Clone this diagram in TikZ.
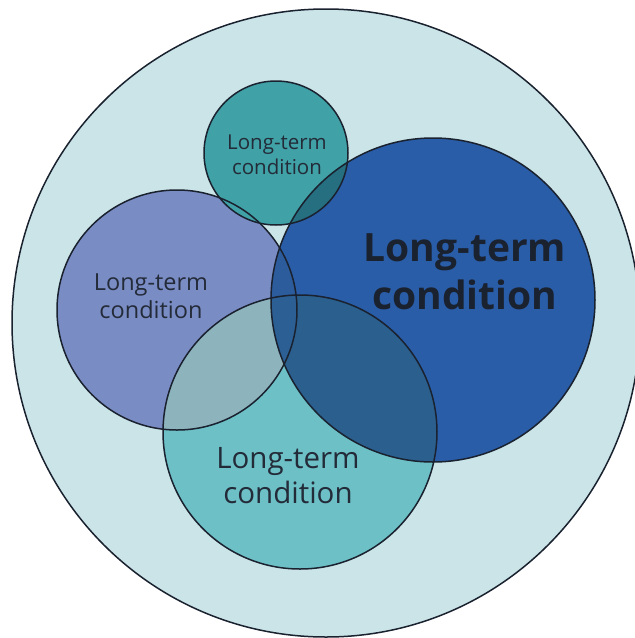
\documentclass[tikz,border=0pt]{standalone}
\usepackage{fontspec}
\setmainfont{Open Sans}
\usetikzlibrary{positioning}
\definecolor{outerc}{HTML}{CAE4E7}
\definecolor{topc}{HTML}{40A2A6}
\definecolor{leftc}{HTML}{7A8CC4}
\definecolor{bigc}{HTML}{2A5DA8}
\definecolor{botc}{HTML}{6DC0C6}
\definecolor{topbigc}{HTML}{256F80}
\definecolor{leftbigc}{HTML}{2C5C9C}
\definecolor{leftbotc}{HTML}{8DB3BC}
\definecolor{bigbotc}{HTML}{2A5F8E}
\definecolor{triplec}{HTML}{2C5F94}
\definecolor{edge}{HTML}{1A2230}
\definecolor{txt}{HTML}{232A38}

\begin{document}
\begin{tikzpicture}[x=1pt,y=-1pt,line width=1.5pt,
    ring/.style={draw=edge},
    lbl/.style={align=center,text=txt,inner sep=0pt}]
  \useasboundingbox (0,0) rectangle (635,638);
  \clip (0,0) rectangle (635,638);
  %%%%%%%%%%%%%%%%%%%%%%%%%%%centres%%%%%%%%%%%%%%%%%%%%%%
  \coordinate (all) at (326,323);
  \coordinate (tp) at (276,153);
  \coordinate (lt) at (177,310);
  \coordinate (bg) at (433,300);
  \coordinate (bt) at (300,432);
  %%%%%%%%%%%%%%%%%%%%%%%%%%%fills%%%%%%%%%%%%%%%%%%%%%%
  \fill[outerc] (all) circle (314pt);
  \fill[leftc] (lt) circle (120pt);
  \fill[bigc] (bg) circle (162pt);
  \fill[botc] (bt) circle (137pt);
  \begin{scope}
    \clip (lt) circle (120pt);
    \fill[leftbigc] (bg) circle (162pt);
    \fill[leftbotc] (bt) circle (137pt);
  \end{scope}
  \begin{scope}
    \clip (bg) circle (162pt);
    \fill[bigbotc] (bt) circle (137pt);
  \end{scope}
  \begin{scope}
    \clip (lt) circle (120pt);
    \clip (bg) circle (162pt);
    \fill[triplec] (bt) circle (137pt);
  \end{scope}
  \fill[topc] (tp) circle (72pt);
  \begin{scope}
    \clip (tp) circle (72pt);
    \fill[topbigc] (bg) circle (162pt);
  \end{scope}
  %%%%%%%%%%%%%%%%%%%%%%%%%%%outlines%%%%%%%%%%%%%%%%%%%%%%
  \foreach \c/\r in {all/314,lt/120,bg/162,bt/137,tp/72}
    \draw[ring] (\c) circle (\r pt);
  %%%%%%%%%%%%%%%%%%%%%%%%%%%labels%%%%%%%%%%%%%%%%%%%%%%
  \node[lbl,font=\fontsize{20.5}{25}\selectfont] (tplbl) at (277,155)
    {Long-term\\condition};
  \node[lbl,font=\fontsize{23.5}{28}\selectfont] (ltlbl) at (151,296)
    {Long-term\\condition};
  \node[lbl,font=\fontsize{29.5}{35}\selectfont] (btlbl) at (288,476)
    {Long-term\\condition};
  \node[lbl,font=\bfseries\fontsize{39}{48}\selectfont,text=edge] (bglbl) at (465,272)
    {Long-term\\condition};
\end{tikzpicture}
\end{document}
